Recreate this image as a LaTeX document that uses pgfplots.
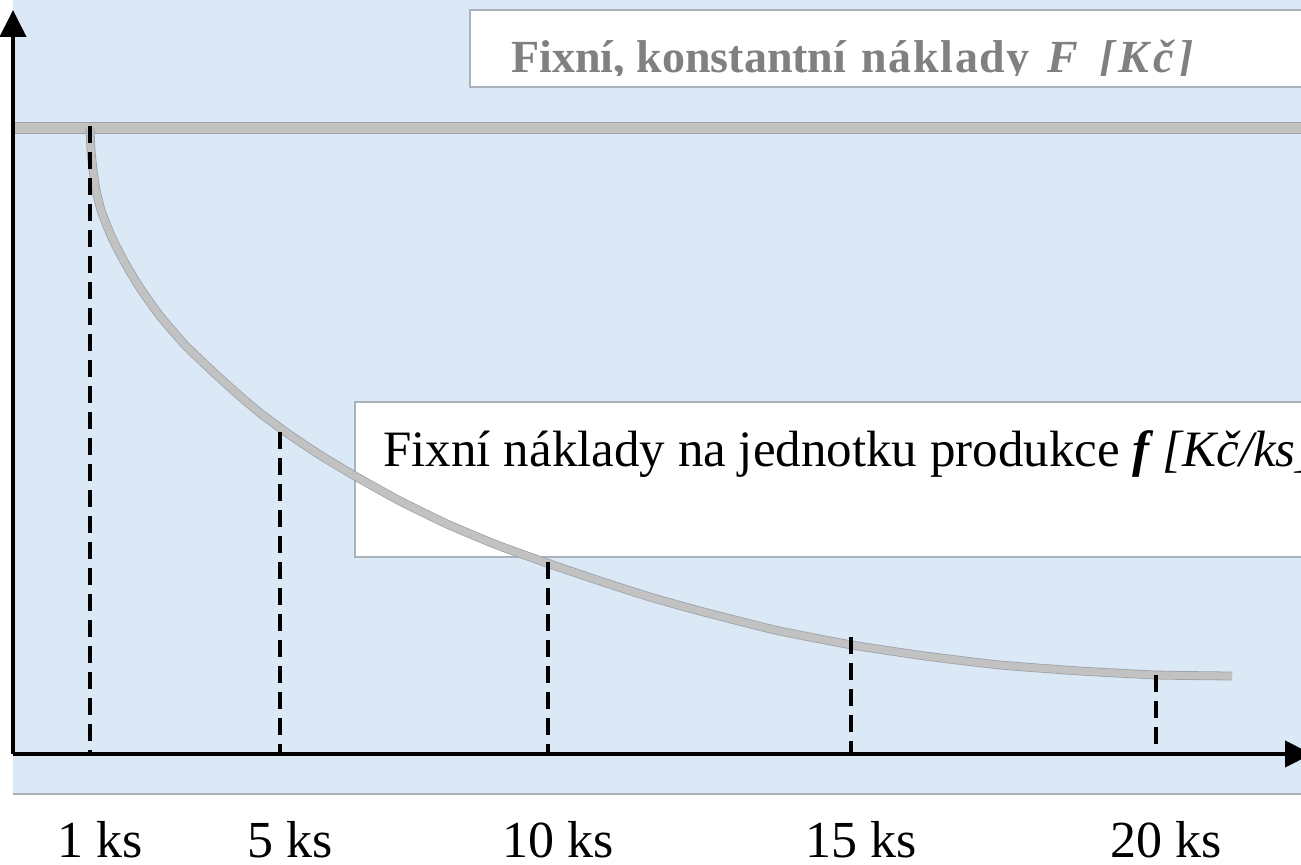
\documentclass[border=0pt]{standalone}
\usepackage{fontspec}
\setmainfont{Liberation Serif}
\usepackage{pgfplots}
\pgfplotsset{compat=1.18}
\usetikzlibrary{arrows.meta}
\definecolor{bgblue}{RGB}{219,232,246}
\definecolor{linegray}{RGB}{194,194,194}
\definecolor{edgegray}{RGB}{158,162,168}
\definecolor{textgray}{RGB}{128,128,128}
\definecolor{boxedge}{RGB}{170,178,188}
\begin{document}
\begin{tikzpicture}
\path[use as bounding box] (0pt,0pt) rectangle (650.5pt,432pt);
\begin{scope}
\clip (0pt,0pt) rectangle (650.5pt,432pt);
\fill[white] (0pt,0pt) rectangle (650.5pt,432pt);
\fill[bgblue] (6.5pt,35pt) rectangle (650.5pt,432pt);
\draw[boxedge, line width=0.6pt] (6.5pt,35pt) -- (650.5pt,35pt);
% box 1
\filldraw[fill=white, draw=boxedge, line width=0.6pt] (235pt,388.5pt) rectangle (660pt,427pt);
\begin{scope}
\clip (235pt,394pt) rectangle (650.5pt,427pt);
\node[anchor=base west, inner sep=0pt, text=textgray, font=\fontsize{23pt}{27pt}\selectfont\bfseries] at (255.5pt,395.5pt) {Fixní, konstantní\hspace{2pt} n\hspace{0.8pt}á\hspace{0.8pt}k\hspace{0.8pt}l\hspace{0.8pt}a\hspace{0.8pt}d\hspace{0.8pt}y\hspace{3pt} \textit{F\hspace{5pt} [\hspace{2pt}K\hspace{2pt}č\hspace{2pt}]}};
\end{scope}
% box 2
\filldraw[fill=white, draw=boxedge, line width=0.6pt] (177.5pt,153.5pt) rectangle (660pt,231pt);
\node[anchor=base west, inner sep=0pt, font=\fontsize{25.5pt}{30pt}\selectfont] at (191.5pt,199pt) {Fixní náklady na jednotku produkce \textbf{\textit{f}}\hspace{-2pt} \textit{[Kč/ks]}};
\begin{axis}[
  at={(0pt,0pt)}, anchor=south west,
  scale only axis, width=650.5pt, height=432pt,
  xmin=0, xmax=1301, ymin=0, ymax=864,
  axis line style={draw=none},
  xtick={90,280,548,851,1156},
  xticklabels={1 ks, 5 ks, 10 ks, 15 ks, 20 ks},
  ytick=\empty,
  major tick length=0pt,
  xticklabel style={font=\fontsize{26pt}{30pt}\selectfont, anchor=base, xshift=5pt, yshift=3.5pt},
]
\pgfplotstableread{
x y
90 736
91 714
93 694
96 674
101 654
107 638
113 624
125 601
140 576
160 548
185 519
210 495
233 474
260 451
290 429
320 409
355 388
400 363
447 340
497 319
547 301
600 283
650 267
700 253
775 234
852 219
925 208
1000 199
1080 193
1157 189
1232 188
}\unitcost
% fixed costs F
\addplot[edgegray, line width=5.6pt] coordinates {(13,736) (1301,736)};
\addplot[linegray, line width=4.6pt] coordinates {(13,736) (1301,736)};
% unit fixed costs f
\addplot[edgegray, line width=4.4pt, smooth, tension=0.3, line join=round] table[x=x,y=y] {\unitcost};
\addplot[linegray, line width=3.6pt, smooth, tension=0.3, line join=round] table[x=x,y=y] {\unitcost};
% dashed drop lines
\addplot[black, line width=2.1pt, dash pattern=on 8.5pt off 4.5pt] coordinates {(90,738) (90,110)};
\addplot[black, line width=2.1pt, dash pattern=on 8.5pt off 4.5pt] coordinates {(280,432) (280,110)};
\addplot[black, line width=2.1pt, dash pattern=on 8.5pt off 4.5pt] coordinates {(548,302) (548,110)};
\addplot[black, line width=2.1pt, dash pattern=on 8.5pt off 4.5pt] coordinates {(851,227) (851,110)};
\addplot[black, line width=2.1pt, dash pattern=on 8.5pt off 4.5pt] coordinates {(1156,189) (1156,110)};
% axes with arrows
\addplot[black, line width=2pt, -{Triangle[length=13.5pt,width=13pt]}] coordinates {(13,110) (1312,110)};
\addplot[black, line width=2pt, -{Triangle[length=13.5pt,width=13pt]}] coordinates {(13,110) (13,854)};
\end{axis}
\end{scope}
\end{tikzpicture}
\end{document}
